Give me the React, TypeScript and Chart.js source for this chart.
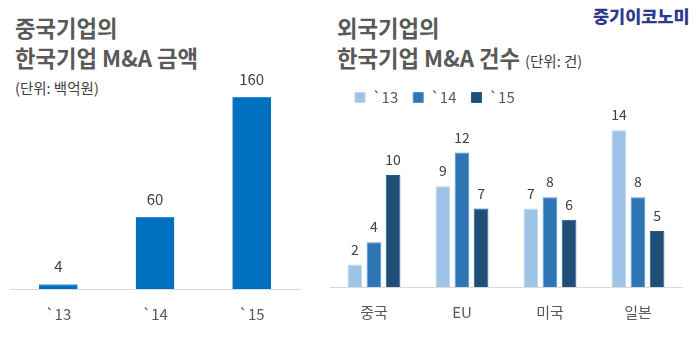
import React, { useEffect, useRef } from "react";
import { Chart, registerables } from "chart.js";

Chart.register(...registerables);

const leftYears = ["`13", "`14", "`15"];
const leftValues = [4, 60, 160];

const rightCategories = ["중국", "EU", "미국", "일본"];
const seriesNames = ["`13", "`14", "`15"];
const series13 = [2, 9, 7, 14];
const series14 = [4, 12, 8, 8];
const series15 = [10, 7, 6, 5];

const FONT = "'Noto Sans CJK KR', 'Noto Sans', sans-serif";
const TEXT = "#595959";

const valueLabels = (fontSize: number, offset: number) => ({
  id: "valueLabels",
  afterDatasetsDraw(chart: any) {
    const ctx = chart.ctx;
    ctx.save();
    ctx.font = `${fontSize}px ${FONT}`;
    ctx.fillStyle = "#404040";
    ctx.textAlign = "center";
    ctx.textBaseline = "alphabetic";
    chart.data.datasets.forEach((ds: any, i: number) => {
      const meta = chart.getDatasetMeta(i);
      meta.data.forEach((bar: any, j: number) => {
        ctx.fillText(String(ds.data[j]), bar.x, bar.y - offset);
      });
    });
    ctx.restore();
  },
});

const legendShift = {
  id: "legendShift",
  afterLayout(chart: any) {
    if (chart.legend) {
      chart.legend.left += 10;
      chart.legend.right += 10;
    }
  },
};

function LeftChart() {
  const ref = useRef<HTMLCanvasElement>(null);
  useEffect(() => {
    const chart = new Chart(ref.current!, {
      type: "bar",
      data: {
        labels: leftYears,
        datasets: [
          {
            data: leftValues,
            backgroundColor: "#0070c0",
            borderColor: "#2f8ad4",
            borderWidth: { top: 1, left: 0, right: 0, bottom: 0 } as any,
            categoryPercentage: 1,
            barPercentage: 0.4,
          },
        ],
      },
      options: {
        responsive: false,
        animation: false,
        devicePixelRatio: 1,
        layout: { padding: { top: 13, bottom: 5, left: 10, right: 20 } },
        plugins: { legend: { display: false }, tooltip: { enabled: false } },
        scales: {
          x: {
            grid: { display: false, drawTicks: false },
            border: { display: true, color: "#d9d9d9", width: 1 },
            ticks: { color: TEXT, font: { family: FONT, size: 15 }, padding: 16 },
          },
          y: { display: false, min: 0, max: 180 },
        },
      },
      plugins: [valueLabels(15, 12)],
    });
    return () => chart.destroy();
  }, []);
  return (
    <canvas
      ref={ref}
      width={320}
      height={284}
      style={{ position: "absolute", left: 0, top: 60, width: 320, height: 284 }}
    />
  );
}

function RightChart() {
  const ref = useRef<HTMLCanvasElement>(null);
  useEffect(() => {
    const common = { categoryPercentage: 0.65, barPercentage: 0.77, borderWidth: 1 };
    const chart = new Chart(ref.current!, {
      type: "bar",
      data: {
        labels: rightCategories,
        datasets: [
          { label: seriesNames[0], data: series13, backgroundColor: "#9dc3e6", borderColor: "#bcd6ee", ...common },
          { label: seriesNames[1], data: series14, backgroundColor: "#2e75b6", borderColor: "#5592c8", ...common },
          { label: seriesNames[2], data: series15, backgroundColor: "#1f4e79", borderColor: "#2a5a86", ...common },
        ],
      },
      options: {
        responsive: false,
        animation: false,
        devicePixelRatio: 1,
        layout: { padding: { top: 0, bottom: 7, left: 0, right: 18 } },
        plugins: {
          tooltip: { enabled: false },
          legend: {
            display: true,
            position: "top",
            align: "start",
            labels: {
              boxWidth: 10,
              boxHeight: 10,
              padding: 15,
              color: TEXT,
              font: { family: FONT, size: 15 },
            },
          },
        },
        scales: {
          x: {
            grid: { display: false, drawTicks: false },
            border: { display: true, color: "#d9d9d9", width: 1 },
            ticks: { color: TEXT, font: { family: FONT, size: 15 }, padding: 16 },
          },
          y: { display: false, min: 0, max: 15.35 },
        },
      },
      plugins: [valueLabels(14, 10), legendShift],
    });
    return () => chart.destroy();
  }, []);
  return (
    <canvas
      ref={ref}
      width={370}
      height={269}
      style={{ position: "absolute", left: 330, top: 75, width: 370, height: 269 }}
    />
  );
}

const titleStyle: React.CSSProperties = {
  position: "absolute",
  fontFamily: FONT,
  fontWeight: 700,
  fontSize: 22.3,
  lineHeight: "30px",
  color: TEXT,
  whiteSpace: "nowrap",
  margin: 0,
};

export default function App() {
  return (
    <div
      style={{
        position: "fixed",
        left: 0,
        top: 0,
        width: 700,
        height: 344,
        background: "#ffffff",
        overflow: "hidden",
      }}
    >
      <div style={{ ...titleStyle, left: 15, top: 12 }}>
        중국기업의
        <br />
        한국기업 M&amp;A 금액
      </div>
      <div
        style={{
          position: "absolute",
          left: 15,
          top: 78,
          fontFamily: FONT,
          fontSize: 14.5,
          lineHeight: "20px",
          color: "#404040",
          whiteSpace: "nowrap",
        }}
      >
        (단위: 백억원)
      </div>
      <div style={{ ...titleStyle, left: 337, top: 12 }}>
        외국기업의
        <br />
        한국기업 M&amp;A 건수{" "}
        <span style={{ fontWeight: 400, fontSize: 14.5, color: "#404040" }}>(단위: 건)</span>
      </div>
      <div
        style={{
          position: "absolute",
          left: 593,
          top: 4,
          fontFamily: FONT,
          fontWeight: 900,
          fontSize: 17.5,
          lineHeight: "24px",
          color: "#2d3a8c",
          whiteSpace: "nowrap",
        }}
      >
        중기이코노미
      </div>
      <LeftChart />
      <RightChart />
    </div>
  );
}
